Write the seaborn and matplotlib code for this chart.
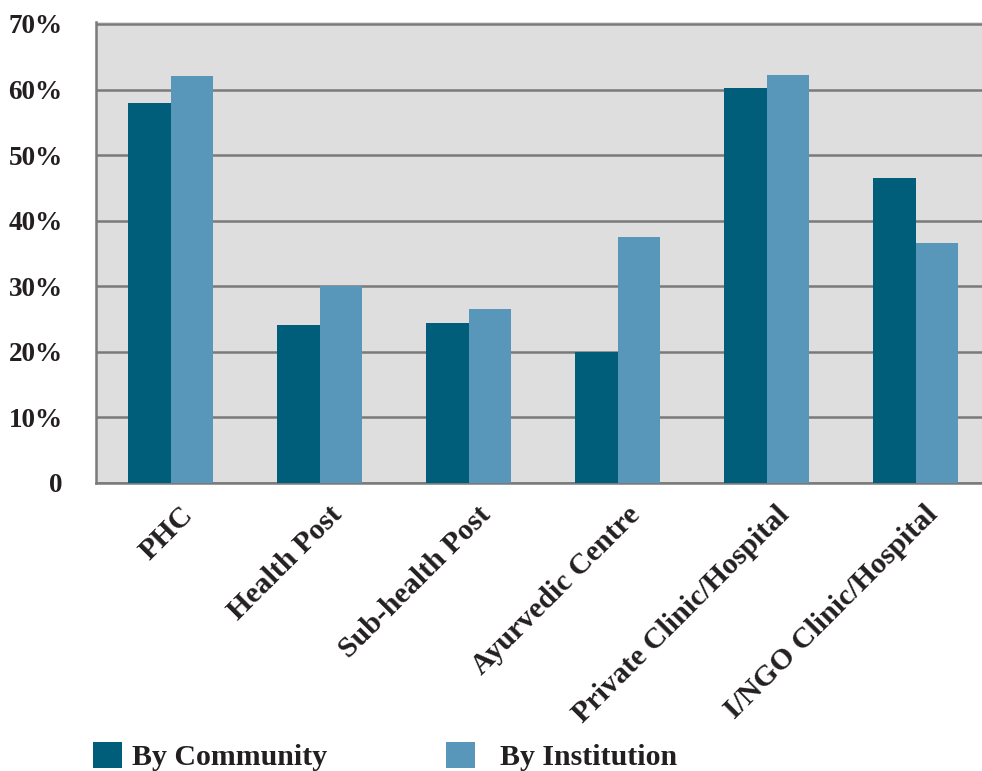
import matplotlib
matplotlib.use("Agg")
import matplotlib.pyplot as plt
import seaborn as sns
import pandas as pd
from matplotlib.ticker import FuncFormatter

# Share of respondents citing each facility type
facilities = ["PHC", "Health Post", "Sub-health Post", "Ayurvedic Centre",
              "Private Clinic/Hospital", "I/NGO Clinic/Hospital"]
by_community = [58.0, 24.1, 24.4, 20.0, 60.2, 46.5]
by_institution = [62.1, 30.0, 26.5, 37.5, 62.2, 36.6]
series_names = ["By Community", "By Institution"]
y_ticks = [0, 10, 20, 30, 40, 50, 60, 70]

dark_teal = "#005E7A"
light_blue = "#5896BA"
panel_grey = "#DEDEDE"
rule_grey = "#7A7A7A"
ink = "#231F20"

df = pd.DataFrame({
    "facility": facilities * 2,
    "share": by_community + by_institution,
    "source": [series_names[0]] * len(facilities) + [series_names[1]] * len(facilities),
})

sns.set_style("white")
plt.rcParams["font.family"] = ["Liberation Serif", "DejaVu Serif"]
plt.rcParams["font.weight"] = "bold"

fig = plt.figure(figsize=(9.82, 7.71), dpi=100)
# top limit a touch above 70 so the 70% rule is not clipped
y_top = 70.3
ax = fig.add_axes([96 / 982, 288 / 771, 894 / 982, 461 / 771])

sns.barplot(data=df, x="facility", y="share", hue="source", order=facilities,
            hue_order=series_names, palette=[dark_teal, light_blue],
            width=0.573, saturation=1, linewidth=0, ax=ax, zorder=3)

ax.set_facecolor(panel_grey)
ax.set_xlim(-0.5, len(facilities) - 0.5)
ax.set_ylim(0, y_top)
ax.set_yticks(y_ticks)
ax.yaxis.set_major_formatter(FuncFormatter(lambda v, p: "0" if v == 0 else f"{v:.0f}%"))
ax.grid(axis="y", color=rule_grey, linewidth=1.8, zorder=1)
ax.set_axisbelow(True)
ax.set_xlabel("")
ax.set_ylabel("")

for side in ["top", "right"]:
    ax.spines[side].set_visible(False)
for side in ["left", "bottom"]:
    ax.spines[side].set_color(rule_grey)
    ax.spines[side].set_linewidth(1.8)

ax.tick_params(axis="y", direction="out", length=7, width=1.8, color=rule_grey,
               pad=17, labelsize=19.5, labelcolor=ink)
ax.tick_params(axis="x", direction="out", length=7, width=1.8, color=rule_grey,
               labelcolor=ink)

# Ticks sit on category boundaries; labels hang just right of each category centre
ax.set_xticks([i - 0.5 for i in range(len(facilities))])
ax.set_xticklabels([])
ax.set_xticks([i + 0.06 for i in range(len(facilities))], minor=True)
ax.set_xticklabels(facilities, minor=True, rotation=45, ha="right", va="top",
                   rotation_mode="anchor", fontsize=21.5, color=ink, fontweight="bold")
ax.tick_params(axis="x", which="minor", length=0, pad=13)

for lbl in ax.get_yticklabels():
    lbl.set_fontweight("bold")

handles, labels = ax.get_legend_handles_labels()
ax.get_legend().remove()
leg = fig.legend(handles, [labels[0], "  " + labels[1]], loc="lower left",
                 bbox_to_anchor=(93 / 982, 0), ncol=2, frameon=False,
                 handlelength=0.97, handleheight=0.97, handletextpad=0.33,
                 columnspacing=4.0, borderaxespad=0, borderpad=0,
                 prop={"size": 21.5, "weight": "bold"})
for t in leg.get_texts():
    t.set_color(ink)

fig.savefig("out.png", dpi=100, facecolor="white")
